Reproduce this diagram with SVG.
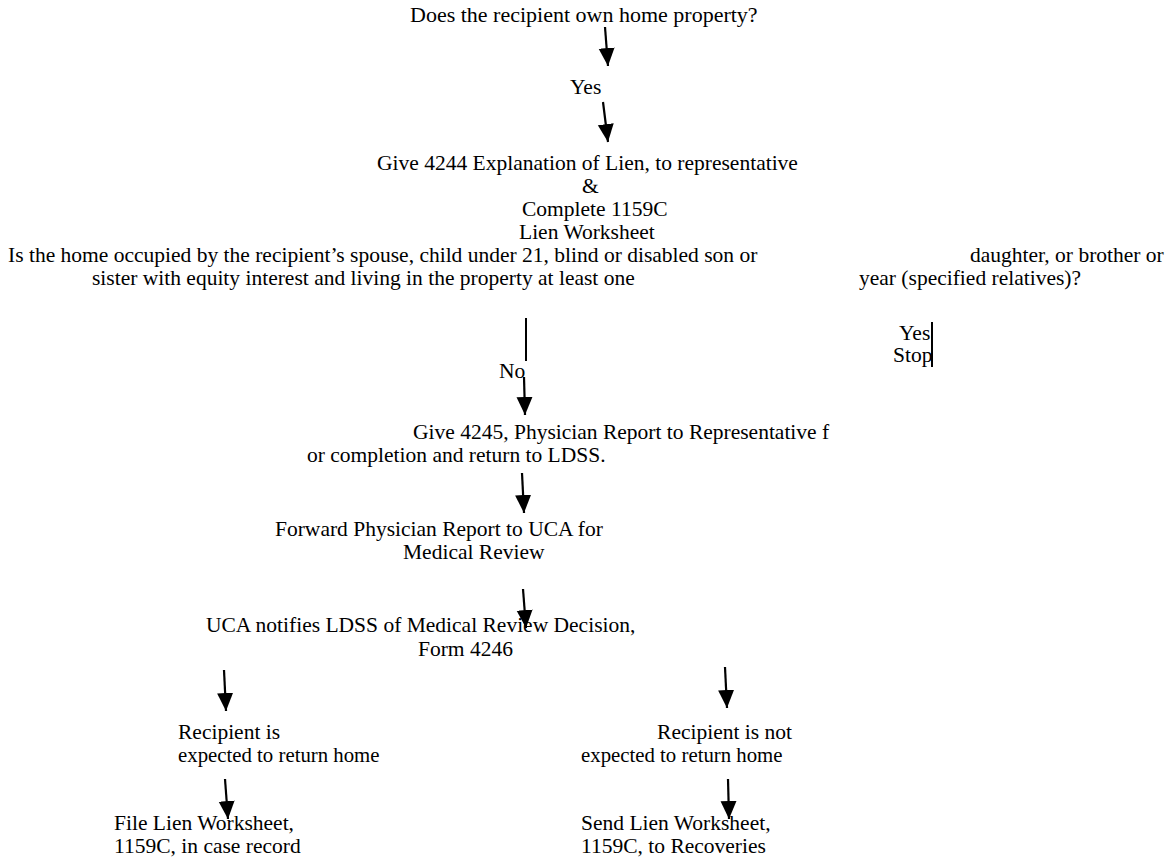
<svg xmlns="http://www.w3.org/2000/svg" width="1175" height="863" viewBox="0 0 1175 863">
<style>
text{font-family:"Liberation Serif","Times New Roman",serif;font-size:21.5px;fill:#000}
.e{text-anchor:end}
.ln{stroke:#000;stroke-width:2;fill:none}
.arr{stroke:#000;stroke-width:2.2;fill:none;marker-end:url(#ah)}
</style>
<defs>
<marker id="ah" markerUnits="userSpaceOnUse" markerWidth="20" markerHeight="18" viewBox="0 0 20 18" refX="18" refY="8" orient="auto">
<path d="M0,0 L18,8 L0,16 z" fill="#000"/>
</marker>
</defs>
<rect width="1175" height="863" fill="#fff"/>
<g id="n1"><text x="410" y="22" style="font-size:22px">Does the recipient own home property?</text></g>
<g id="n2"><text x="570" y="94">Yes</text></g>
<g id="n3">
<text x="377" y="170">Give 4244 Explanation of Lien, to representative</text>
<text x="582" y="193">&amp;</text>
<text x="522" y="216">Complete 1159C</text>
<text x="519" y="239">Lien Worksheet</text>
</g>
<g id="n4">
<text x="8" y="262">Is the home occupied by the recipient’s spouse, child under 21, blind or disabled son or</text>
<text x="970" y="262">daughter, or brother or</text>
<text x="92" y="285">sister with equity interest and living in the property at least one</text>
<text x="859" y="285">year (specified relatives)?</text>
</g>
<g id="n5"><text x="499" y="378">No</text></g>
<g id="n6"><text x="899" y="340">Yes</text><text x="893" y="362">Stop</text></g>
<g id="n7">
<text x="413" y="439">Give 4245, Physician Report to Representative f</text>
<text x="307" y="462">or completion and return to LDSS.</text>
</g>
<g id="n8">
<text x="275" y="536">Forward Physician Report to UCA for</text>
<text x="403" y="559">Medical Review</text>
</g>
<g id="n9">
<text x="206" y="632">UCA notifies LDSS of Medical Review Decision,</text>
<text x="418" y="656">Form 4246</text>
</g>
<g id="n10">
<text x="178" y="739">Recipient is</text>
<text x="178" y="762" style="font-size:20.8px">expected to return home</text>
</g>
<g id="n11">
<text class="e" x="792" y="739">Recipient is not</text>
<text x="581" y="762" style="font-size:20.8px">expected to return home</text>
</g>
<g id="n12">
<text x="114" y="830">File Lien Worksheet,</text>
<text x="114" y="853">1159C, in case record</text>
</g>
<g id="n13">
<text x="581" y="830">Send Lien Worksheet,</text>
<text x="581" y="853">1159C, to Recoveries</text>
</g>
<g id="connectors">
<line class="arr" x1="605" y1="27" x2="608" y2="66"/>
<line class="arr" x1="603" y1="102" x2="608" y2="142"/>
<line class="ln" x1="526" y1="318" x2="526" y2="361"/>
<line class="ln" x1="932" y1="322" x2="932" y2="367"/>
<line class="arr" x1="524" y1="377" x2="525" y2="415"/>
<line class="arr" x1="522" y1="473" x2="524" y2="513"/>
<line class="arr" x1="523" y1="589" x2="526" y2="628"/>
<line class="arr" x1="224" y1="670" x2="226" y2="711"/>
<line class="arr" x1="725" y1="667" x2="727" y2="708"/>
<line class="arr" x1="225" y1="779" x2="228" y2="819"/>
<line class="arr" x1="728" y1="779" x2="729" y2="819"/>
</g>
</svg>
